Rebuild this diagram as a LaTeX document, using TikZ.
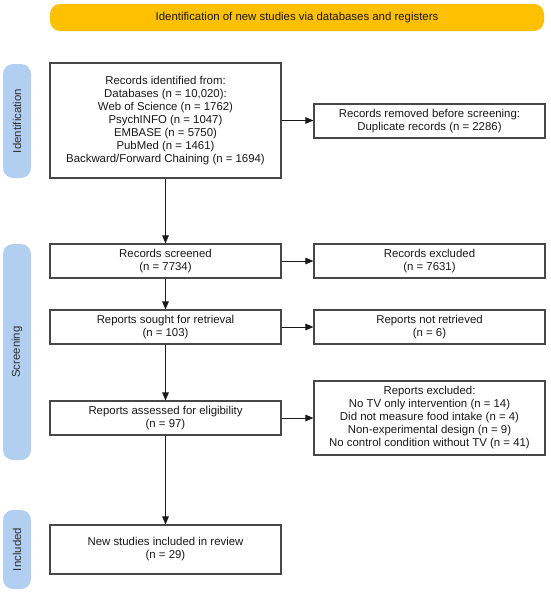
\documentclass[tikz,border=0pt]{standalone}
\usepackage{fontspec}
\setmainfont{Liberation Sans}
\usetikzlibrary{arrows.meta}
\definecolor{bannercol}{RGB}{255,192,0}
\definecolor{sidecol}{RGB}{178,206,240}
\definecolor{boxline}{RGB}{72,72,72}
\definecolor{txt}{RGB}{25,25,25}
\tikzset{
  box/.style={draw=boxline, line width=1.1pt, fill=white, align=center,
    font=\fontsize{11.4}{13}\selectfont, text=txt, inner sep=2pt, minimum width=231},
  sidebar/.style={fill=sidecol, rounded corners=10pt, draw=none, rotate=90,
    minimum height=28, font=\fontsize{11.4}{13}\selectfont, text=txt!90},
  banner/.style={fill=bannercol, rounded corners=10pt, draw=none,
    minimum width=494, minimum height=27, font=\fontsize{11.4}{13}\selectfont, text=txt},
  arr/.style={draw=txt, line width=0.9pt, -{Triangle[length=8pt,width=6.5pt]}}
}
\begin{document}
\begin{tikzpicture}[x=1pt,y=-1pt]
\useasboundingbox (0,0) rectangle (550,595);
\node[banner] (ban) at (297,17.5) {Identification of new studies via databases and registers};
\node[sidebar, minimum width=114] (sid) at (17,121) {Identification};
\node[sidebar, minimum width=216] (sscr) at (17,352) {Screening};
\node[sidebar, minimum width=79] (sinc) at (17,549.5) {Included};

\node[box, minimum height=115] (ident) at (165.5,120.5) {Records identified from:\\Databases (n = 10,020):\\Web of Science (n = 1762)\\PsychINFO (n = 1047)\\EMBASE (n = 5750)\\PubMed (n = 1461)\\Backward/Forward Chaining (n = 1694)};
\node[box, minimum height=34] (removed) at (429.5,121) {Records removed before screening:\\Duplicate records (n = 2286)};
\node[box, minimum height=34] (screened) at (165.5,261) {Records screened\\(n = 7734)};
\node[box, minimum height=34] (excluded) at (429.5,261) {Records excluded\\(n = 7631)};
\node[box, minimum height=34] (sought) at (165.5,327) {Reports sought for retrieval\\(n = 103)};
\node[box, minimum height=34] (notret) at (429.5,327) {Reports not retrieved\\(n = 6)};
\node[box, minimum height=34] (assessed) at (165.5,418) {Reports assessed for eligibility\\(n = 97)};
\node[box, minimum height=74] (repexcl) at (429.5,418) {Reports excluded:\\No TV only intervention (n = 14)\\Did not measure food intake (n = 4)\\Non-experimental design (n = 9)\\No control condition without TV (n = 41)};
\node[box, minimum height=49] (newst) at (165.5,549.5) {New studies included in review\\(n = 29)};

\draw[arr] (ident) -- (screened);
\draw[arr] (ident.east) -- (ident.east -| removed.west);
\draw[arr] (screened) -- (excluded);
\draw[arr] (screened) -- (sought);
\draw[arr] (sought) -- (notret);
\draw[arr] (sought) -- (assessed);
\draw[arr] (assessed) -- (repexcl);
\draw[arr] (assessed) -- (newst);
\end{tikzpicture}
\end{document}
